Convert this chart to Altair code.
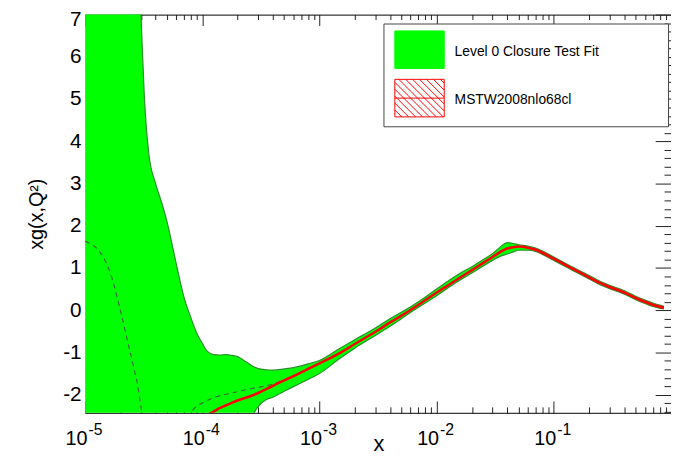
import altair as alt
import pandas as pd

# ---------------- data ----------------
# Level 0 Closure Test Fit: 68% band (upper / lower edge)
band_x = [1e-5, 2e-5, 2.8e-5, 3e-5, 3.2e-5, 3.5e-5, 4e-5, 4.5e-5, 5e-5, 6e-5, 7e-5, 8e-5, 9e-5,
          1e-4, 1.1e-4, 1.25e-4, 1.4e-4, 1.6e-4, 1.8e-4, 2e-4, 2.3e-4, 2.6e-4, 2.75e-4, 3e-4, 3.5e-4, 4e-4,
          5e-4, 6e-4, 7e-4, 8e-4, 1e-3, 1.5e-3, 2e-3, 3e-3, 4e-3, 5e-3, 7e-3, 1e-2, 1.3e-2, 1.6e-2,
          2e-2, 2.5e-2, 3e-2, 3.5e-2, 4e-2, 4.5e-2, 5e-2, 6e-2, 7e-2, 8e-2, 0.1, 0.13, 0.16, 0.2,
          0.25, 0.3, 0.4, 0.5, 0.6, 0.7, 0.87]
band_upper = [12, 12, 9, 7.0, 5.1, 3.7, 3.0, 2.55, 2.1, 1.1, 0.3, -0.18, -0.55,
              -0.78, -0.97, -1.05, -1.06, -1.05, -1.07, -1.1, -1.2, -1.3, -1.34, -1.38, -1.41, -1.42,
              -1.39, -1.36, -1.32, -1.27, -1.19, -0.9, -0.7, -0.42, -0.2, -0.05, 0.2, 0.5, 0.72, 0.88,
              1.03, 1.2, 1.34, 1.5, 1.6, 1.58, 1.55, 1.52, 1.47, 1.4, 1.26, 1.09, 0.96, 0.82,
              0.68, 0.59, 0.46, 0.33, 0.24, 0.17, 0.09]
band_lower = [-6, -6, -6, -6, -6, -6, -6, -6, -6, -6, -6, -6, -6,
              -6, -6, -6, -6, -6, -6, -4, -3.2, -2.62, -2.45, -2.28, -2.12, -2.06,
              -1.92, -1.81, -1.72, -1.64, -1.5, -1.14, -0.9, -0.6, -0.38, -0.2, 0.07, 0.34, 0.56, 0.72,
              0.88, 1.05, 1.18, 1.28, 1.33, 1.38, 1.42, 1.42, 1.39, 1.32, 1.18, 1.01, 0.88, 0.74,
              0.6, 0.51, 0.38, 0.25, 0.16, 0.09, 0.03]

# Level 0 Closure Test Fit: central value (dashed)
cen_x = [1e-5, 1.3e-5, 1.5e-5, 1.7e-5, 2e-5, 2.3e-5, 2.6e-5, 2.8e-5, 3e-5, 3.2e-5, 3.5e-5, 4e-5,
         5e-5, 6e-5, 7e-5, 8e-5, 9e-5, 1e-4, 1.25e-4, 1.6e-4, 2e-4, 2.6e-4, 3e-4, 3.5e-4, 4e-4,
         5e-4, 6e-4, 8e-4, 1e-3, 2e-3, 5e-3, 1e-2, 2e-2, 3e-2, 4e-2, 5e-2, 6e-2, 8e-2, 0.1,
         0.2, 0.3, 0.5, 0.7, 0.87]
cen_y = [1.63, 1.42, 1.15, 0.75, 0.0, -0.72, -1.35, -1.75, -2.3, -2.8, -3.3, -3.6,
         -3.3, -2.85, -2.58, -2.41, -2.27, -2.2, -2.07, -1.99, -1.93, -1.86, -1.83, -1.79, -1.75,
         -1.65, -1.56, -1.38, -1.25, -0.8, -0.13, 0.42, 0.95, 1.27, 1.47, 1.5, 1.48, 1.36, 1.22,
         0.78, 0.55, 0.29, 0.13, 0.06]

# MSTW2008nlo68cl central value
mstw_x = [1e-4, 1.1e-4, 1.25e-4, 1.4e-4, 1.6e-4, 1.8e-4, 2e-4, 2.3e-4, 2.6e-4, 3e-4, 3.5e-4, 4e-4,
          5e-4, 6e-4, 7e-4, 8e-4, 1e-3, 1.5e-3, 2e-3, 3e-3, 4e-3, 5e-3, 7e-3, 1e-2, 1.3e-2,
          1.6e-2, 2e-2, 2.5e-2, 3e-2, 3.5e-2, 4e-2, 4.5e-2, 5e-2, 6e-2, 7e-2, 8e-2, 0.1, 0.13,
          0.16, 0.2, 0.25, 0.3, 0.4, 0.5, 0.6, 0.7, 0.87]
mstw_y = [-2.55, -2.48, -2.40, -2.32, -2.25, -2.19, -2.14, -2.08, -2.03, -1.96, -1.87, -1.79,
          -1.66, -1.56, -1.47, -1.39, -1.26, -1.01, -0.80, -0.51, -0.29, -0.13, 0.13, 0.42, 0.62,
          0.78, 0.95, 1.12, 1.26, 1.38, 1.46, 1.49, 1.51, 1.48, 1.43, 1.36, 1.22, 1.05,
          0.92, 0.78, 0.64, 0.55, 0.42, 0.29, 0.20, 0.13, 0.06]

series_names = ["Level 0 Closure Test Fit", "MSTW2008nlo68cl"]

# axis ticks / labels
x_major = [1e-5, 1e-4, 1e-3, 1e-2, 1e-1, 1]
x_minor = [m * 10.0 ** k for k in range(-5, 0) for m in range(2, 10)]
y_major = [-2, -1, 0, 1, 2, 3, 4, 5, 6, 7]
y_minor = [round(-2.4 + 0.2 * i, 1) for i in range(48)]

# ---------------- tables ----------------
band_df = pd.DataFrame({"x": band_x, "upper": band_upper, "lower": band_lower})
cen_df = pd.DataFrame({"x": cen_x, "y": cen_y})
mstw_df = pd.DataFrame({"x": mstw_x, "y": mstw_y})
leg_df = pd.DataFrame({"series": series_names})

FONT = "Liberation Sans"
W, H = 593, 403

xs = alt.Scale(type="log", domain=[1e-5, 1], nice=False)
ys = alt.Scale(domain=[-2.43, 7], nice=False, zero=False)

IS_MAJ_X = "abs(log(datum.value)/LN10 - round(log(datum.value)/LN10)) < 0.001"
IS_MAJ_Y = "abs(datum.value - round(datum.value)) < 0.001"

ax_x_base = alt.Axis(orient="bottom", values=x_major, labelExpr="datum.value >= 1 ? '1' : '10'",
                     labelAlign={"condition": {"test": "datum.value >= 1", "value": "center"}, "value": "right"},
                     labelOffset={"condition": {"test": "datum.value >= 1", "value": 8}, "value": 2},
                     ticks=False, tickSize=0, domain=False, grid=False,
                     labelFont=FONT, labelFontSize=20, labelColor="black",
                     labelBaseline="alphabetic", labelPadding=32, labelFlush=False, labelOverlap=False,
                     title="x", titleFont=FONT, titleFontSize=22, titleFontWeight="normal", titleColor="black",
                     titleX=297, titleY=38, titleBaseline="alphabetic", titleAlign="center")
ax_x_exp = alt.Axis(orient="bottom", values=x_major[:-1], labelExpr="'' + round(log(datum.value)/LN10)",
                    labelAlign="left", labelOffset=3, ticks=False, tickSize=0, domain=False, grid=False,
                    labelFont=FONT, labelFontSize=16, labelColor="black",
                    labelBaseline="alphabetic", labelPadding=22, labelFlush=False, labelOverlap=False,
                    title=None)
ax_x_bottom = alt.Axis(orient="top", offset=-H, values=x_major + x_minor, labels=False, grid=False,
                       domain=True, domainColor="black", domainWidth=1, tickColor="#222", tickWidth=1,
                       tickSize={"condition": {"test": IS_MAJ_X, "value": 12}, "value": 6}, title=None)
ax_x_top = alt.Axis(orient="bottom", offset=-H, values=x_major + x_minor, labels=False, grid=False,
                    domain=True, domainColor="black", domainWidth=1, tickColor="#222", tickWidth=1,
                    tickSize={"condition": {"test": IS_MAJ_X, "value": 11}, "value": 5}, title=None)
ax_y_labels = alt.Axis(orient="left", values=y_major, labelExpr="'' + datum.value", ticks=False, tickSize=0,
                       domain=False, grid=False, labelFont=FONT, labelFontSize=21, labelColor="black",
                       labelPadding=4, labelFlush=False, labelOverlap=False,
                       labelOffset={"condition": {"test": "datum.value >= 7", "value": 5}, "value": 0},
                       title="xg(x,Q²)", titleFont=FONT, titleFontSize=20, titleFontWeight="normal",
                       titleColor="black", titleX=-49, titleY=H / 2, titleBaseline="middle",
                       titleAlign="center")
ax_y_right = alt.Axis(orient="left", offset=-W, values=y_minor, labels=False, grid=False, domain=False,
                      tickColor="#222", tickWidth=1,
                      tickSize={"condition": {"test": IS_MAJ_Y, "value": 16}, "value": 7}, title=None)

# legend swatch: rectangle + diagonal hatching + middle line (unit square coords, drawn in the upper part)
TOP, BOT = -1.0, 0.52
segs = [f"M-1,{TOP}H1V{BOT}H-1Z", f"M-1,{(TOP + BOT) / 2:.3f}H1"]
hh = BOT - TOP
step = 0.28
x0 = -1 - hh
while x0 < 1:
    xa, ya = x0, TOP
    xb, yb = x0 + hh, BOT
    if xa < -1:
        ya = ya + (-1 - xa)
        xa = -1
    if xb > 1:
        yb = yb - (xb - 1)
        xb = 1
    if xb - xa > 0.02:
        segs.append(f"M{xa:.3f},{ya:.3f}L{xb:.3f},{yb:.3f}")
    x0 += step
swatch = "".join(segs)

pad = "\u00a0" * 16 + "\u200b"
leg = alt.Legend(orient="none", legendX=302, legendY=9, title=None, direction="vertical",
                 symbolType=swatch, symbolSize=2500, symbolStrokeWidth=1, symbolOffset=4,
                 labelFont=FONT, labelFontSize=14, labelColor="black", labelLimit=500, labelOffset=10,
                 labelBaseline="alphabetic",
                 labelExpr="datum.label + '" + pad + "'",
                 padding=7, rowPadding=6, strokeColor="#444", fillColor="white")

band = alt.Chart(band_df).mark_area(color="#00ff00", clip=True, interpolate="monotone").encode(
    x=alt.X("x:Q", scale=xs, axis=ax_x_base),
    y=alt.Y("upper:Q", scale=ys, axis=ax_y_labels),
    y2="lower:Q",
)
upper_line = alt.Chart(band_df).mark_line(color="#2b8f2b", strokeWidth=1.2, clip=True,
                                          interpolate="monotone").encode(
    x=alt.X("x:Q", scale=xs, axis=ax_x_exp),
    y=alt.Y("upper:Q", scale=ys, axis=ax_y_right),
)
lower_line = alt.Chart(band_df).mark_line(color="#2b8f2b", strokeWidth=1.2, clip=True,
                                          interpolate="monotone").encode(
    x=alt.X("x:Q", scale=xs, axis=ax_x_bottom),
    y=alt.Y("lower:Q", scale=ys, axis=None),
)
central = alt.Chart(cen_df).mark_line(color="#3d6b3d", strokeWidth=1.2, strokeDash=[5, 4], clip=True,
                                      interpolate="monotone").encode(
    x=alt.X("x:Q", scale=xs, axis=ax_x_top),
    y=alt.Y("y:Q", scale=ys, axis=None),
)
mstw = alt.Chart(mstw_df).mark_line(color="#ff0000", strokeWidth=2.6, clip=True,
                                    interpolate="monotone").encode(
    x=alt.X("x:Q", scale=xs, axis=None),
    y=alt.Y("y:Q", scale=ys, axis=None),
)
legend_layer = alt.Chart(leg_df).mark_point(filled=True, opacity=1).encode(
    fill=alt.Fill("series:N", scale=alt.Scale(domain=series_names, range=["#00ff00", "#ffffff"]), legend=leg),
    stroke=alt.Stroke("series:N", scale=alt.Scale(domain=series_names, range=["#00ff00", "#ff0000"]), legend=leg),
).transform_filter("false")

chart = alt.layer(band, upper_line, lower_line, central, mstw, legend_layer).properties(
    width=W, height=H,
    autosize=alt.AutoSizeParams(type="none"),
    padding={"left": 78, "top": 4, "right": 0, "bottom": 41},
    background="white",
).resolve_axis(x="independent", y="independent").configure_view(stroke=None)

chart.save("out.html", embed_options={"renderer": "svg", "actions": False})
